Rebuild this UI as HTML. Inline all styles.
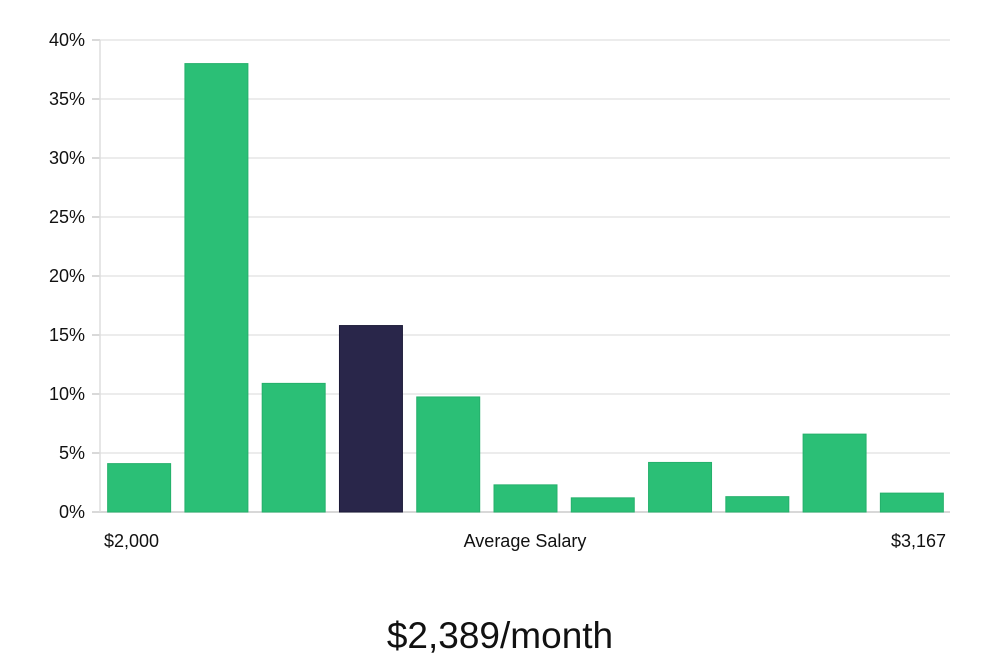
<!DOCTYPE html>
<html><head><meta charset="utf-8"><style>
body{margin:0;background:#fff;width:1000px;height:660px;overflow:hidden;font-family:"Liberation Sans","DejaVu Sans",sans-serif}
</style></head><body>
<svg width="1000" height="660" xmlns="http://www.w3.org/2000/svg">
<g id="grid"></g><g id="bars"></g><g id="labels"></g>
<text x="104" y="547" font-size="18" fill="#111">$2,000</text>
<text x="525" y="547" font-size="18" fill="#111" text-anchor="middle">Average Salary</text>
<text x="946" y="547" font-size="18" fill="#111" text-anchor="end">$3,167</text>
<text x="500" y="648" font-size="37" fill="#111" text-anchor="middle">$2,389/month</text>
</svg>
<script>
const categories=["b1","b2","b3","b4","b5","b6","b7","b8","b9","b10","b11"];
const values=[4.1,38.0,10.9,15.8,9.75,2.3,1.2,4.2,1.3,6.6,1.6];
const highlightIndex=3;
const yTicks=[0,5,10,15,20,25,30,35,40];
const ns="http://www.w3.org/2000/svg";
const x0=100,x1=950,yBase=512,yTop=40,yMax=40;
const y=v=>yBase-(v/yMax)*(yBase-yTop);
const step=(x1-x0)/categories.length,bw=step*0.815;
const grid=document.getElementById('grid'),bars=document.getElementById('bars'),labels=document.getElementById('labels');
function mk(t,a,p){const e=document.createElementNS(ns,t);for(const k in a)e.setAttribute(k,a[k]);p.appendChild(e);return e;}
yTicks.forEach(t=>{
 const l=mk('line',{x1:x0,x2:x1,y1:y(t),y2:y(t),stroke:t===0?'#ccc':'#e6e6e6','stroke-width':1.5},grid);
 
 
 mk('line',{x1:x0-8,x2:x0,y1:y(t),y2:y(t),stroke:'#ccc','stroke-width':1.5},grid);
 const tx=mk('text',{x:85,y:y(t)+6,'font-size':18,fill:'#111','text-anchor':'end'},labels);
 tx.textContent=t+'%';
 
 
});
const ax=mk('line',{x1:x0,x2:x0,y1:yTop,y2:yBase,stroke:'#ddd','stroke-width':1.5},grid);


values.forEach((v,i)=>{
 const bx=x0+i*step+(step-bw)/2+0.5;
 const r=mk('rect',{x:bx,y:y(v),width:bw,height:yBase-y(v),fill:i===highlightIndex?'#29264a':'#2bbf76',stroke:i===highlightIndex?'#1c1a38':'#25b06b','stroke-width':1},bars);
 
 
});
</script>
</body></html>
